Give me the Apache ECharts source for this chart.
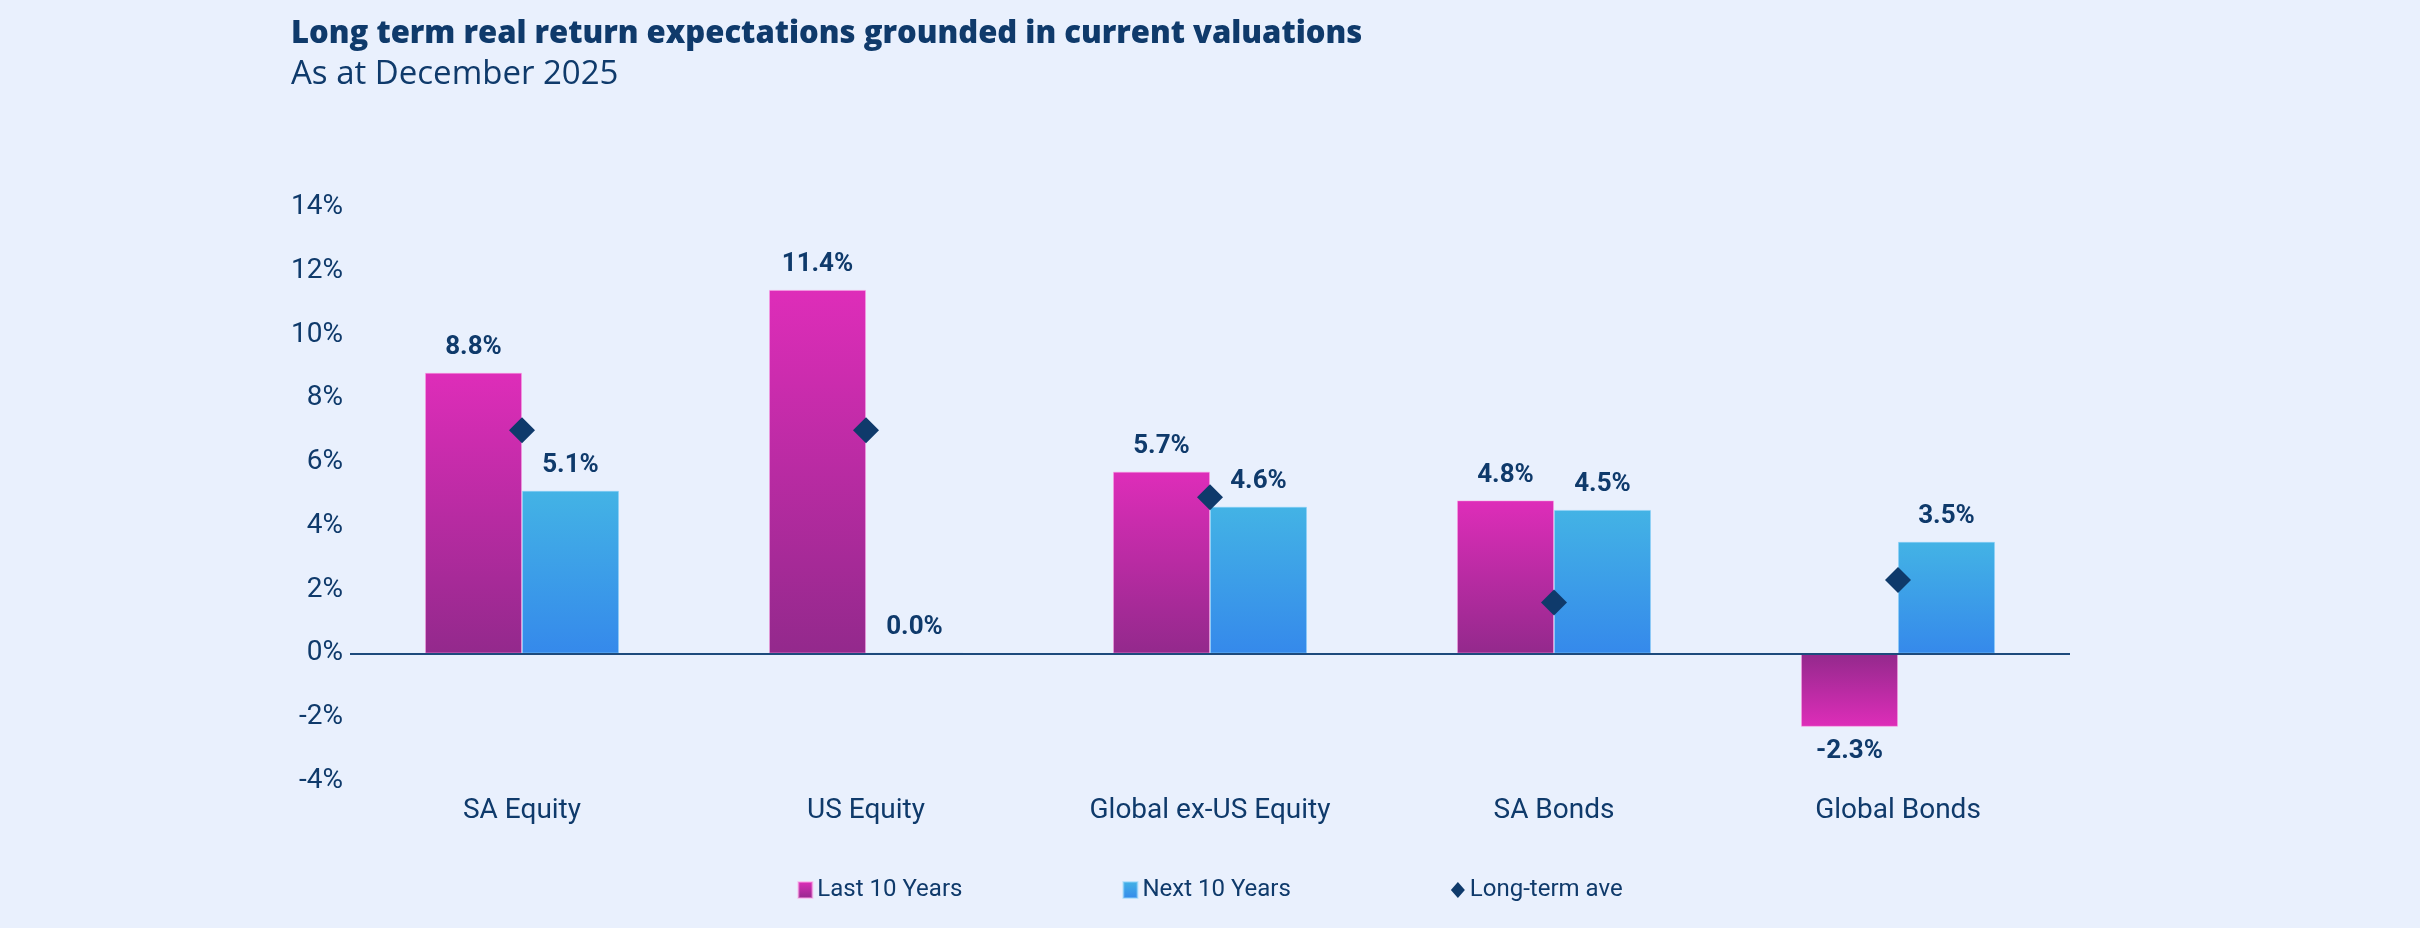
<!DOCTYPE html>
<html>
<head>
<meta charset="utf-8">
<script src="https://cdn.jsdelivr.net/npm/echarts@6/dist/echarts.min.js"></script>
<style>
  html, body { margin: 0; padding: 0; background: #e9f0fd; }
  #chart { width: 2420px; height: 928px; }
</style>
</head>
<body>
<div id="chart"></div>
<script>
// chart data
const categories = ['SA Equity', 'US Equity', 'Global ex-US Equity', 'SA Bonds', 'Global Bonds'];
const last10 = [8.8, 11.4, 5.7, 4.8, -2.3];
const next10 = [5.1, 0.0, 4.6, 4.5, 3.5];
const longTermAve = [7.0, 7.0, 4.9, 1.6, 2.3];
const seriesNames = ['Last 10 Years', 'Next 10 Years', 'Long-term ave'];

const navy = '#0f3a6b';

function grad(top, bottom) {
  return new echarts.graphic.LinearGradient(0, 0, 0, 1, [
    { offset: 0, color: top },
    { offset: 1, color: bottom }
  ]);
}

const pinkTop = '#de2db9', pinkBottom = '#93298c';
const blueTop = '#43b3e5', blueBottom = '#3589eb';

function barData(values, top, bottom) {
  return values.map(function (v) {
    if (v < 0) {
      return {
        value: v,
        itemStyle: { color: grad(bottom, top) },
        label: { position: 'bottom' }
      };
    }
    return { value: v, itemStyle: { color: grad(top, bottom) } };
  });
}

const chart = echarts.init(document.getElementById('chart'));

const labelStyle = {
  show: true,
  position: 'top',
  distance: 12,
  color: navy,
  fontFamily: 'Roboto',
  fontWeight: 'bold',
  fontSize: 26,
  formatter: function (p) { return p.value.toFixed(1) + '%'; }
};

const option = {
  backgroundColor: '#e9f0fd',
  textStyle: { fontFamily: 'Roboto', color: navy },
  title: {
    text: 'Long term real return expectations grounded in current valuations',
    subtext: 'As at December 2025',
    left: 286,
    top: 14,
    itemGap: 8,
    textStyle: {
      fontFamily: 'Open Sans',
      fontWeight: 800,
      fontSize: 31,
      color: navy
    },
    subtextStyle: {
      fontFamily: 'Open Sans',
      fontWeight: 'normal',
      fontSize: 33,
      color: navy
    }
  },
  legend: {
    left: 'center',
    bottom: 21,
    itemGap: 160,
    itemWidth: 14,
    itemHeight: 16,
    itemSymbolGap: 6,
    textStyle: { fontFamily: 'Roboto', fontSize: 24, color: navy },
    data: [
      { name: seriesNames[0], icon: 'rect' },
      { name: seriesNames[1], icon: 'rect' },
      { name: seriesNames[2], icon: 'diamond' }
    ]
  },
  grid: {
    left: 350,
    right: 350,
    top: 207,
    bottom: 147,
    containLabel: false
  },
  xAxis: {
    type: 'category',
    data: categories,
    axisLine: { show: false, onZero: false },
    axisTick: { show: false },
    axisLabel: {
      margin: 16,
      fontFamily: 'Roboto',
      fontSize: 28,
      color: navy
    }
  },
  yAxis: {
    type: 'value',
    min: -4,
    max: 14,
    interval: 2,
    splitLine: { show: false },
    axisLine: { show: false },
    axisTick: { show: false },
    axisLabel: {
      margin: 7,
      fontFamily: 'Roboto',
      fontSize: 28,
      color: navy,
      formatter: '{value}%'
    }
  },
  series: [
    {
      name: seriesNames[0],
      type: 'bar',
      barWidth: 97,
      barGap: '0%',
      itemStyle: { color: grad(pinkTop, pinkBottom), borderColor: 'rgba(255,160,230,0.5)', borderWidth: 1 },
      label: labelStyle,
      data: barData(last10, pinkTop, pinkBottom),
      markLine: {
        silent: true,
        symbol: ['none', 'none'],
        label: { show: false },
        lineStyle: { color: '#1d4a7c', width: 2, type: 'solid' },
        data: [{ yAxis: 0 }]
      }
    },
    {
      name: seriesNames[1],
      type: 'bar',
      barWidth: 97,
      barGap: '0%',
      itemStyle: { color: grad(blueTop, blueBottom), borderColor: 'rgba(140,210,250,0.5)', borderWidth: 1 },
      label: labelStyle,
      data: barData(next10, blueTop, blueBottom)
    },
    {
      name: seriesNames[2],
      type: 'scatter',
      symbol: 'diamond',
      symbolSize: 26,
      itemStyle: { color: navy, opacity: 1 },
      z: 5,
      data: longTermAve
    }
  ]
};

chart.setOption(option);
</script>
</body>
</html>
